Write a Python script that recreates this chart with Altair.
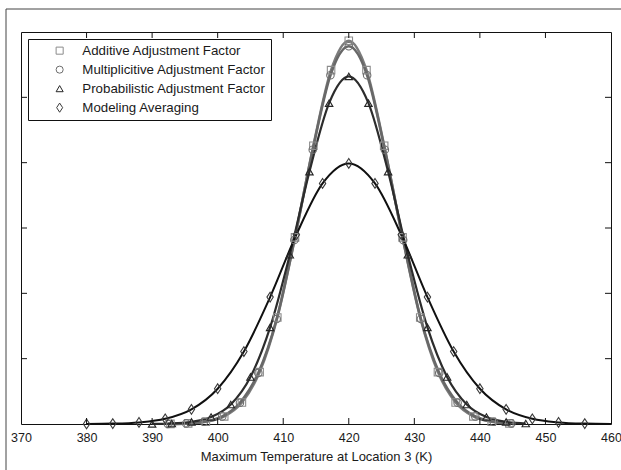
import altair as alt
import pandas as pd

# ---- series values (temperature in K, probability density) ----
series_names = [
    "Additive Adjustment Factor",
    "Multiplicitive Adjustment Factor",
    "Probabilistic Adjustment Factor",
    "Modeling Averaging",
]

x_additive = [392.8, 395.5, 398.2, 401.0, 403.7, 406.4, 409.1, 411.8, 414.6, 417.3,
              420.0, 422.7, 425.4, 428.2, 430.9, 433.6, 436.3, 439.0, 441.8, 444.5]
y_additive = [0.00002, 0.00009, 0.00035, 0.00116, 0.00329, 0.00794, 0.01631, 0.02856, 0.04260, 0.05416,
              0.05867, 0.05416, 0.04260, 0.02856, 0.01631, 0.00794, 0.00329, 0.00116, 0.00035, 0.00009]

x_multiplicative = [392.4, 395.2, 397.9, 400.7, 403.4, 406.2, 409.0, 411.7, 414.5, 417.2,
                    420.0, 422.8, 425.5, 428.3, 431.0, 433.8, 436.6, 439.3, 442.1, 444.8]
y_multiplicative = [0.00002, 0.00009, 0.00035, 0.00115, 0.00325, 0.00782, 0.01607, 0.02815, 0.04198, 0.05337,
                    0.05782, 0.05337, 0.04198, 0.02815, 0.01607, 0.00782, 0.00325, 0.00115, 0.00035, 0.00009]

x_probabilistic = [390, 393, 396, 399, 402, 405, 408, 411, 414, 417,
                   420, 423, 426, 429, 432, 435, 438, 441, 444, 447]
y_probabilistic = [0.00002, 0.00008, 0.00032, 0.00106, 0.00299, 0.00720, 0.01479, 0.02590, 0.03863, 0.04911,
                   0.05320, 0.04911, 0.03863, 0.02590, 0.01479, 0.00720, 0.00299, 0.00106, 0.00032, 0.00008]

x_model_avg = [380, 384, 388, 392, 396, 400, 404, 408, 412, 416,
               420, 424, 428, 432, 436, 440, 444, 448, 452, 456]
y_model_avg = [0.00001, 0.00006, 0.00024, 0.00079, 0.00224, 0.00540, 0.01109, 0.01942, 0.02897, 0.03683,
                0.03989, 0.03683, 0.02897, 0.01942, 0.01109, 0.00540, 0.00224, 0.00079, 0.00024, 0.00006]
# the model-averaging curve runs on to the right edge of the axis
model_tail_x = [460]
model_tail_y = [0.00001]

x_tick_labels = [370, 380, 390, 400, 410, 420, 430, 440, 450, 460]
x_minor_ticks = [380, 390, 400, 410, 420, 430, 440, 450]
y_ticks = [0.01, 0.02, 0.03, 0.04, 0.05]

# ---- tables ----
xs = [x_additive, x_multiplicative, x_probabilistic, x_model_avg]
ys = [y_additive, y_multiplicative, y_probabilistic, y_model_avg]
rows = []
for name, xv, yv in zip(series_names, xs, ys):
    rows += [{"series": name, "temp": a, "density": b} for a, b in zip(xv, yv)]
points_df = pd.DataFrame(rows)
line_df = pd.concat([
    points_df,
    pd.DataFrame({"series": series_names[3], "temp": model_tail_x, "density": model_tail_y}),
], ignore_index=True)

W, H = 590, 392
FONT = "Liberation Sans"

xscale = alt.Scale(domain=[370, 460], nice=False, zero=False)
yscale = alt.Scale(domain=[0, 0.06], nice=False, zero=True)

xaxis = alt.Axis(
    values=x_tick_labels, ticks=False, domain=False, grid=False,
    labelFontSize=12.5, labelFont=FONT, labelColor="#1a1a1a", labelPadding=7, labelFlush=False,
    title="Maximum Temperature at Location 3 (K)", titleFont=FONT, titleFontSize=13,
    titleFontWeight="normal", titleColor="#1a1a1a", titlePadding=7,
)

line_colors = ["#7c7c7c", "#686868", "#2c2c2c", "#101010"]
line_widths = [2.6, 2.6, 2.2, 2.0]

layers = []
for name, col, sw in zip(series_names, line_colors, line_widths):
    layers.append(
        alt.Chart(line_df)
        .transform_filter(alt.datum.series == name)
        .mark_line(color=col, strokeWidth=sw, interpolate="monotone")
        .encode(
            x=alt.X("temp:Q", scale=xscale, axis=xaxis),
            y=alt.Y("density:Q", scale=yscale, axis=None),
            order=alt.Order("temp:Q"),
        )
    )

legend = alt.Legend(
    title=None, orient="none", legendX=7, legendY=7,
    strokeColor="#111", fillColor="white", padding=5, cornerRadius=0,
    symbolOffset=20, labelOffset=16, rowPadding=5,
    labelFont=FONT, labelFontSize=13.3, labelColor="#1a1a1a", labelLimit=400,
    symbolSize=50, symbolStrokeWidth=1,
)
marker_colors = ["#8c8c8c", "#6e6e6e", "#262626", "#3a3a3a"]
diamond = "M0,-1.3L0.85,0L0,1.3L-0.85,0Z"
shapes = ["square", "circle", "triangle-up", diamond]

points = (
    alt.Chart(points_df)
    .mark_point(filled=False, strokeWidth=1.1, size=56, opacity=1)
    .encode(
        x=alt.X("temp:Q", scale=xscale, axis=xaxis),
        y=alt.Y("density:Q", scale=yscale, axis=None),
        color=alt.Color("series:N", scale=alt.Scale(domain=series_names, range=marker_colors), legend=legend),
        shape=alt.Shape("series:N", scale=alt.Scale(domain=series_names, range=shapes), legend=legend),
    )
)

# inward tick marks on all four sides
xt_df = pd.DataFrame({"temp": x_minor_ticks})
yt_df = pd.DataFrame({"density": y_ticks})
tick_style = dict(color="#111", strokeWidth=1)
bottom_ticks = alt.Chart(xt_df).mark_rule(**tick_style).encode(
    x=alt.X("temp:Q", scale=xscale, axis=xaxis), y=alt.value(H), y2=alt.value(H - 6))
top_ticks = alt.Chart(xt_df).mark_rule(**tick_style).encode(
    x=alt.X("temp:Q", scale=xscale, axis=xaxis), y=alt.value(0), y2=alt.value(6))
left_ticks = alt.Chart(yt_df).mark_rule(**tick_style).encode(
    y=alt.Y("density:Q", scale=yscale, axis=None), x=alt.value(0), x2=alt.value(6))
right_ticks = alt.Chart(yt_df).mark_rule(**tick_style).encode(
    y=alt.Y("density:Q", scale=yscale, axis=None), x=alt.value(W), x2=alt.value(W - 6))

# outer figure border
frame = alt.Chart(pd.DataFrame({"k": [0]})).mark_rect(
    fill=None, stroke="#444", strokeWidth=1
).encode(x=alt.value(-15), x2=alt.value(W + 40), y=alt.value(-23), y2=alt.value(H + 80))

chart = (
    alt.layer(*layers, points, bottom_ticks, top_ticks, left_ticks, right_ticks, frame)
    .properties(
        width=W, height=H,
        autosize=alt.AutoSizeParams(type="none"),
        padding={"left": 21, "top": 32, "right": 10, "bottom": 46},
        background="white",
    )
    .configure_view(stroke="#111", strokeWidth=1)
)

chart.save("out.html", embed_options={"renderer": "svg", "actions": False})
